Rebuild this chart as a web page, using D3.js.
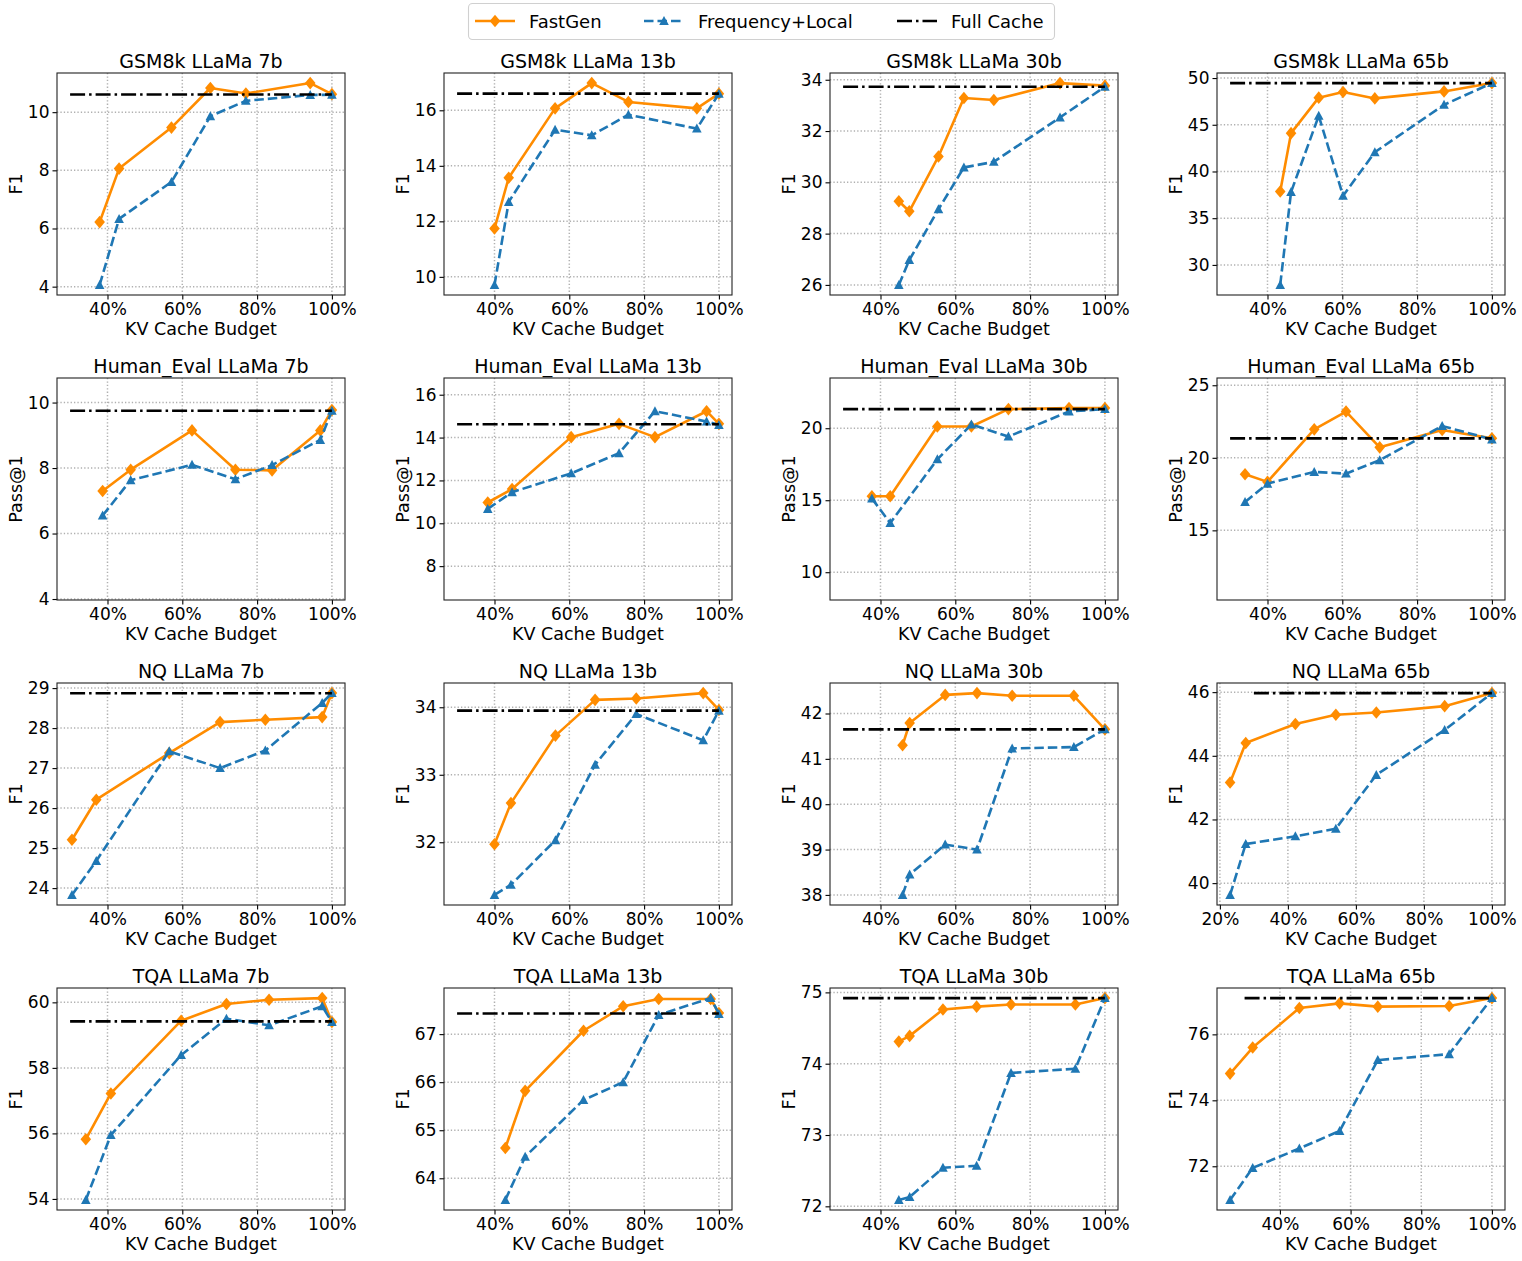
<!DOCTYPE html>
<html>
<head>
<meta charset="utf-8">
<script src="https://cdn.jsdelivr.net/npm/d3@7"></script>
<style>
  body { margin: 0; background: #fff; }
  text { font-family: "DejaVu Sans", sans-serif; fill: #000; }
</style>
</head>
<body>
<script>
// row / column labels
const tasks = ['GSM8k', 'Human_Eval', 'NQ', 'TQA'];
const models = ['7b', '13b', '30b', '65b'];
const yLabels = ['F1', 'Pass@1', 'F1', 'F1'];
const seriesNames = ['FastGen', 'Frequency+Local', 'Full Cache'];
const xTickValues = [0.2, 0.4, 0.6, 0.8, 1.0];

// GSM8k
const gsm8kBudget = [
    [0.379, 0.431, 0.571, 0.675, 0.77, 0.942, 1.0],
    [0.40, 0.438, 0.562, 0.66, 0.758, 0.941, 1.0],
    [0.449, 0.477, 0.555, 0.623, 0.703, 0.88, 1.0],
    [0.434, 0.463, 0.537, 0.602, 0.687, 0.872, 1.0]
];
const gsm8kFastGen = [
    [6.22, 8.06, 9.47, 10.83, 10.64, 11.0, 10.62],
    [11.74, 13.57, 16.07, 16.98, 16.3, 16.07, 16.6],
    [29.26, 28.87, 31.01, 33.29, 33.21, 33.87, 33.77],
    [37.86, 44.1, 47.9, 48.5, 47.82, 48.57, 49.46]
];
const gsm8kFreqLocal = [
    [4.06, 6.33, 7.6, 9.86, 10.39, 10.59, 10.6],
    [9.71, 12.7, 15.3, 15.1, 15.84, 15.34, 16.6],
    [26.0, 26.97, 28.95, 30.58, 30.8, 32.53, 33.73],
    [27.86, 37.8, 45.96, 37.4, 42.07, 47.14, 49.46]
];
const gsm8kFull = [10.61, 16.6, 33.73, 49.46];
const gsm8kYTicks = [[4, 6, 8, 10], [10, 12, 14, 16], [26, 28, 30, 32, 34], [30, 35, 40, 45, 50]];

// Human_Eval
const humanEvalBudget = [
    [0.387, 0.462, 0.626, 0.742, 0.84, 0.969, 1.0],
    [0.382, 0.447, 0.605, 0.733, 0.829, 0.967, 1.0],
    [0.377, 0.426, 0.552, 0.643, 0.742, 0.904, 1.0],
    [0.34, 0.40, 0.525, 0.61, 0.70, 0.867, 1.0]
];
const humanEvalFastGen = [
    [7.3, 7.95, 9.15, 7.95, 7.93, 9.15, 9.77],
    [10.97, 11.6, 14.02, 14.64, 14.02, 15.23, 14.64],
    [15.28, 15.28, 20.12, 20.12, 21.33, 21.4, 21.4],
    [18.87, 18.34, 21.96, 23.19, 20.72, 21.92, 21.34]
];
const humanEvalFreqLocal = [
    [6.55, 7.63, 8.1, 7.66, 8.09, 8.86, 9.75],
    [10.67, 11.45, 12.33, 13.27, 15.23, 14.75, 14.59],
    [15.12, 13.42, 17.84, 20.26, 19.42, 21.16, 21.33],
    [16.95, 18.22, 19.03, 18.91, 19.84, 22.19, 21.27]
];
const humanEvalFull = [9.75, 14.62, 21.33, 21.34];
const humanEvalYTicks = [[4, 6, 8, 10], [8, 10, 12, 14, 16], [10, 15, 20], [15, 20, 25]];
const humanEvalYLim = [[3.97, 10.75], [6.42, 16.78], [8.07, 23.49], [10.2, 25.5]];

// NQ
const nqBudget = [
    [0.305, 0.37, 0.565, 0.701, 0.822, 0.974, 1.0],
    [0.40, 0.444, 0.563, 0.669, 0.779, 0.958, 1.0],
    [0.459, 0.478, 0.573, 0.658, 0.752, 0.917, 1.0],
    [0.23, 0.276, 0.422, 0.541, 0.66, 0.861, 1.0]
];
const nqFastGen = [
    [25.21, 26.21, 27.375, 28.15, 28.21, 28.275, 28.875],
    [31.97, 32.58, 33.58, 34.11, 34.13, 34.21, 33.96],
    [41.3, 41.79, 42.41, 42.45, 42.39, 42.39, 41.65],
    [43.16, 44.4, 45.0, 45.29, 45.36, 45.56, 45.97]
];
const nqFreqLocal = [
    [23.83, 24.68, 27.42, 27.0, 27.44, 28.63, 28.875],
    [31.22, 31.37, 32.03, 33.15, 33.9, 33.51, 33.95],
    [38.0, 38.45, 39.11, 39.0, 41.23, 41.26, 41.65],
    [39.63, 41.23, 41.47, 41.71, 43.4, 44.81, 45.97]
];
const nqFull = [28.87, 33.95, 41.65, 45.97];
const nqYTicks = [[24, 25, 26, 27, 28, 29], [32, 33, 34], [38, 39, 40, 41, 42], [40, 42, 44, 46]];

// TQA
const tqaBudget = [
    [0.342, 0.409, 0.597, 0.718, 0.832, 0.974, 1.0],
    [0.429, 0.482, 0.638, 0.744, 0.839, 0.978, 1.0],
    [0.449, 0.478, 0.567, 0.657, 0.749, 0.921, 1.0],
    [0.259, 0.323, 0.455, 0.569, 0.677, 0.879, 1.0]
];
const tqaFastGen = [
    [55.82, 57.22, 59.44, 59.95, 60.08, 60.13, 59.4],
    [64.63, 65.82, 67.07, 67.58, 67.73, 67.73, 67.44],
    [74.31, 74.39, 74.76, 74.8, 74.83, 74.83, 74.92],
    [74.81, 75.6, 76.8, 76.94, 76.84, 76.86, 77.1]
];
const tqaFreqLocal = [
    [53.97, 55.95, 58.39, 59.5, 59.3, 59.88, 59.4],
    [63.55, 64.45, 65.63, 66.0, 67.4, 67.75, 67.42],
    [72.09, 72.13, 72.54, 72.57, 73.87, 73.93, 74.92],
    [70.98, 71.95, 72.54, 73.07, 75.22, 75.4, 77.1]
];
const tqaFull = [59.42, 67.43, 74.92, 77.1];
const tqaYTicks = [[54, 56, 58, 60], [64, 65, 66, 67], [72, 73, 74, 75], [72, 74, 76]];

const rows = [
    { budget: gsm8kBudget, fast: gsm8kFastGen, freq: gsm8kFreqLocal, full: gsm8kFull, yTicks: gsm8kYTicks, yLim: null },
    { budget: humanEvalBudget, fast: humanEvalFastGen, freq: humanEvalFreqLocal, full: humanEvalFull, yTicks: humanEvalYTicks, yLim: humanEvalYLim },
    { budget: nqBudget, fast: nqFastGen, freq: nqFreqLocal, full: nqFull, yTicks: nqYTicks, yLim: null },
    { budget: tqaBudget, fast: tqaFastGen, freq: tqaFreqLocal, full: tqaFull, yTicks: tqaYTicks, yLim: null }
];

const orange = '#ff8c00';
const blue = '#1f77b4';
const colLeft = [57, 444, 830, 1217];
const rowTop = [73, 378, 683, 988];
const pw = 288, ph = 222;

const svg = d3.select('body')
    .append('svg')
    .attr('width', 1522)
    .attr('height', 1261);

const diamond = 'M0,-6.3L5.3,0L0,6.3L-5.3,0Z';
const triangle = 'M0,-5L4.8,4L-4.8,4Z';

function drawPanel(r, c) {
    const row = rows[r];
    const bud = row.budget[c], fast = row.fast[c], freq = row.freq[c], full = row.full[c];
    const g = svg.append('g').attr('transform', `translate(${colLeft[c]},${rowTop[r]})`);

    const xmin = Math.min(0.3, d3.min(bud)), xmax = 1.0;
    const xpad = (xmax - xmin) * 0.05;
    const x = d3.scaleLinear().domain([xmin - xpad, xmax + xpad]).range([0, pw]);

    let ydom;
    if (row.yLim) {
        ydom = row.yLim[c];
    } else {
        const all = fast.concat(freq, [full]);
        const lo = d3.min(all), hi = d3.max(all), pad = (hi - lo) * 0.05;
        ydom = [lo - pad, hi + pad];
    }
    const y = d3.scaleLinear().domain(ydom).range([ph, 0]);

    const xt = xTickValues.filter(v => v >= x.domain()[0] && v <= x.domain()[1]);
    const yt = row.yTicks[c];

    // grid
    g.append('g').selectAll('line').data(xt).enter().append('line')
        .attr('x1', d => x(d)).attr('x2', d => x(d)).attr('y1', 0).attr('y2', ph)
        .attr('stroke', '#b0b0b0').attr('stroke-width', 1.5).attr('stroke-dasharray', '1.3,2.1');
    g.append('g').selectAll('line').data(yt).enter().append('line')
        .attr('y1', d => y(d)).attr('y2', d => y(d)).attr('x1', 0).attr('x2', pw)
        .attr('stroke', '#b0b0b0').attr('stroke-width', 1.5).attr('stroke-dasharray', '1.3,2.1');

    // axes
    const xAxis = g.append('g').attr('transform', `translate(0,${ph})`)
        .call(d3.axisBottom(x).tickValues(xt).tickSize(4.5).tickPadding(3).tickFormat(d => Math.round(d * 100) + '%'));
    const yAxis = g.append('g')
        .call(d3.axisLeft(y).tickValues(yt).tickSize(4.5).tickPadding(3).tickFormat(d3.format('d')));
    [xAxis, yAxis].forEach(a => {
        a.select('.domain').remove();
        a.selectAll('line').attr('stroke', '#000').attr('stroke-width', 1.1);
        a.selectAll('text').attr('font-size', 17).attr('font-family', '"DejaVu Sans", sans-serif').attr('fill', '#000');
    });

    // lines
    const line = d3.line().x(d => x(d[0])).y(d => y(d[1]));
    const fastPts = bud.map((b, i) => [b, fast[i]]);
    const freqPts = bud.map((b, i) => [b, freq[i]]);

    g.append('path').attr('d', line(fastPts)).attr('fill', 'none')
        .attr('stroke', orange).attr('stroke-width', 2.6).attr('stroke-linejoin', 'round');
    g.selectAll('.dm').data(fastPts).enter().append('path').attr('class', 'dm')
        .attr('d', diamond).attr('transform', d => `translate(${x(d[0])},${y(d[1])})`)
        .attr('fill', orange);

    g.append('path').attr('d', line(freqPts)).attr('fill', 'none')
        .attr('stroke', blue).attr('stroke-width', 2.6).attr('stroke-dasharray', '9.5,4');
    g.selectAll('.tr').data(freqPts).enter().append('path').attr('class', 'tr')
        .attr('d', triangle).attr('transform', d => `translate(${x(d[0])},${y(d[1])})`)
        .attr('fill', blue);

    g.append('line')
        .attr('x1', x(0.3)).attr('x2', x(1.0)).attr('y1', y(full)).attr('y2', y(full))
        .attr('stroke', '#000').attr('stroke-width', 2.6).attr('stroke-dasharray', '15,4,2.5,4');

    // frame
    g.append('rect').attr('width', pw).attr('height', ph)
        .attr('fill', 'none').attr('stroke', '#222').attr('stroke-width', 1.1);

    // titles and labels
    g.append('text').attr('x', pw / 2).attr('y', -5).attr('text-anchor', 'middle')
        .attr('font-size', 19).text(`${tasks[r]} LLaMa ${models[c]}`);
    g.append('text').attr('x', pw / 2).attr('y', ph + 40).attr('text-anchor', 'middle')
        .attr('font-size', 17.5).text('KV Cache Budget');
    const bb = yAxis.node().getBBox();
    g.append('text')
        .attr('transform', `translate(${bb.x - 6},${ph / 2}) rotate(-90)`)
        .attr('text-anchor', 'middle').attr('font-size', 17.5).text(yLabels[r]);
}

for (let r = 0; r < 4; r++) {
    for (let c = 0; c < 4; c++) drawPanel(r, c);
}

// legend
const legend = svg.append('g');
legend.append('rect').attr('x', 468.5).attr('y', 3.5).attr('width', 586).attr('height', 36).attr('rx', 4)
    .attr('fill', '#fff').attr('stroke', '#d0d0d0').attr('stroke-width', 1.1);
const legX = [475, 644, 897];
const ly = 21;
legend.append('line').attr('x1', legX[0]).attr('x2', legX[0] + 40).attr('y1', ly).attr('y2', ly)
    .attr('stroke', orange).attr('stroke-width', 2.6);
legend.append('path').attr('d', diamond).attr('transform', `translate(${legX[0] + 20},${ly})`).attr('fill', orange);
legend.append('line').attr('x1', legX[1]).attr('x2', legX[1] + 40).attr('y1', ly).attr('y2', ly)
    .attr('stroke', blue).attr('stroke-width', 2.6).attr('stroke-dasharray', '9.5,4');
legend.append('path').attr('d', triangle).attr('transform', `translate(${legX[1] + 20},${ly})`).attr('fill', blue);
legend.append('line').attr('x1', legX[2]).attr('x2', legX[2] + 40).attr('y1', ly).attr('y2', ly)
    .attr('stroke', '#000').attr('stroke-width', 2.6).attr('stroke-dasharray', '15,4,2.5,4');
legend.selectAll('.lt').data(seriesNames).enter().append('text').attr('class', 'lt')
    .attr('x', (d, i) => legX[i] + 54).attr('y', ly + 6.5).attr('font-size', 18).text(d => d);
</script>
</body>
</html>
